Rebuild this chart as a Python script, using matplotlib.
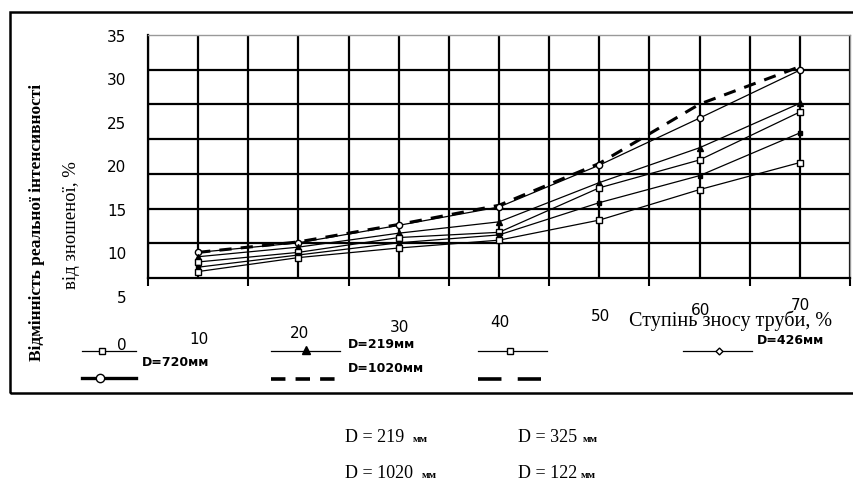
import numpy as np
import matplotlib.pyplot as plt
from matplotlib.lines import Line2D
from matplotlib.patches import Rectangle

# values
wear = [10, 20, 30, 40, 50, 60, 70]
s_circle = [10.3, 11.4, 13.4, 15.5, 20.3, 25.7, 31.2]
s_dashed = [10.3, 11.5, 13.5, 15.7, 20.5, 27.3, 31.6]
s_triangle = [9.8, 10.9, 12.5, 13.8, 18.3, 22.3, 27.4]
s_square = [9.2, 10.3, 12.0, 12.6, 17.7, 20.9, 26.4]
s_filled = [8.6, 10.0, 11.4, 12.3, 16.0, 19.1, 24.0]
s_square2 = [8.1, 9.7, 10.8, 11.7, 14.0, 17.5, 20.6]

y_ticks = [5, 10, 15, 20, 25, 30, 35]
x_labels = [0, 10, 20, 30, 40, 50, 60, 70]

legend_labels = ["D=720мм", "D=219мм", "D=1020мм", "D=426мм"]
bottom_labels = [("D = 219", "мм"), ("D = 325", "мм"),
                 ("D = 1020", "мм"), ("D = 122", "мм")]

W, H = 854, 493
sans = ["DejaVu Sans"]
serif = ["Liberation Serif", "DejaVu Serif"]


def fx(px):
    return px / W


def fy(py):
    return 1 - py / H


fig = plt.figure(figsize=(W / 100, H / 100), dpi=100)
ax = fig.add_axes([fx(148), fy(278), 702 / W, 243 / H])

# outer frame
fig.add_artist(Rectangle((fx(10), fy(393)), fx(860) - fx(10), fy(12) - fy(393),
                         transform=fig.transFigure, fill=False, lw=1.8,
                         edgecolor="black"))

ax.set_xlim(5, 75)
ax.set_ylim(7.36, 35.23)
ax.set_yticks([])
ax.set_xticks(range(5, 80, 10))
ax.set_xticks(range(10, 80, 10), minor=True)
ax.tick_params(axis="x", which="major", direction="out", length=6, width=1.5,
               labelbottom=False)
ax.tick_params(axis="x", which="minor", length=0)
ax.grid(which="both", axis="x", color="black", lw=1.6)
for k in range(1, 7):
    ax.plot([0, 1], [k / 7, k / 7], transform=ax.transAxes, color="black",
            lw=1.6, zorder=1)
for side in ["left", "bottom"]:
    ax.spines[side].set_linewidth(1.6)
for side in ["top", "right"]:
    ax.spines[side].set_color("#999999")
    ax.spines[side].set_linewidth(1.0)

# curves
ax.plot(wear, s_dashed, color="black", lw=2.2, ls=(0, (4, 3)), zorder=3)
ax.plot(wear, s_circle, color="black", lw=0.9, marker="o", ms=4.5,
        mfc="white", mec="black", zorder=4)
ax.plot(wear, s_triangle, color="black", lw=0.9, marker="^", ms=4.5, zorder=4)
ax.plot(wear, s_square, color="black", lw=0.9, marker="s", ms=4.5,
        mfc="white", mec="black", zorder=4)
ax.plot(wear, s_filled, color="black", lw=0.9, marker="s", ms=3.5, zorder=4)
ax.plot(wear, s_square2, color="black", lw=0.9, marker="s", ms=4,
        mfc="white", mec="black", zorder=4)

# y tick labels (shifted against the grid, as in the picture)
for v in y_ticks:
    ax.text(-0.031, v, str(v), transform=ax.get_yaxis_transform(),
            ha="right", va="center", fontsize=11, family=sans, clip_on=False)

# x labels, drifting upwards
for v in x_labels:
    xv = 2.3 if v == 0 else v
    fig.text(fx(199 + (xv - 10) * 10.03), fy(345 - 0.57 * v), str(v),
             ha="center", va="center", fontsize=11, family=sans)

fig.text(fx(731), fy(321), "Ступінь зносу труби, %", ha="center",
         va="center", fontsize=14.5, family=serif)

fig.text(fx(37), fy(222), "Відмінність реальної інтенсивності", rotation=90,
         ha="center", va="center", fontsize=12.5, fontweight="bold",
         family=serif)
fig.text(fx(72), fy(225), "від зношеної, %", rotation=90, ha="center",
         va="center", fontsize=13.5, family=serif)


# hand-drawn legend
def leg(x0, x1, y, **kw):
    fig.add_artist(Line2D([fx(x0), fx(x1)], [fy(y), fy(y)],
                          transform=fig.transFigure, color="black", **kw))


def mark(x, y, **kw):
    fig.add_artist(Line2D([fx(x)], [fy(y)], transform=fig.transFigure,
                          color="black", lw=0, **kw))


leg(82, 136, 351, lw=0.9)
mark(102, 351, marker="s", ms=4.5, mfc="white", mec="black")
leg(271, 340, 351, lw=0.9)
mark(306, 350, marker="^", ms=6)
leg(478, 547, 351, lw=0.9)
mark(510, 351, marker="s", ms=4.5, mfc="white", mec="black")
leg(683, 752, 351, lw=0.9)
mark(719, 351, marker="D", ms=3.5, mfc="white", mec="black")
leg(82, 136, 378, lw=2.4)
mark(100, 378, marker="o", ms=6, mfc="white", mec="black")
leg(271, 340, 379, lw=2.6, ls=(0, (4, 2.8)))
leg(478, 541, 379, lw=2.6, ls=(0, (6.5, 4.5)))

fs_leg = 9
fig.text(fx(142), fy(362), legend_labels[0], ha="left", va="center",
         fontsize=fs_leg, fontweight="bold", family=sans)
fig.text(fx(348), fy(345), legend_labels[1], ha="left", va="center",
         fontsize=fs_leg, fontweight="bold", family=sans)
fig.text(fx(348), fy(369), legend_labels[2], ha="left", va="center",
         fontsize=fs_leg, fontweight="bold", family=sans)
fig.text(fx(757), fy(341), legend_labels[3], ha="left", va="center",
         fontsize=fs_leg, fontweight="bold", family=sans)

# captions below the frame
spots = [(345, 438, 413), (518, 438, 583), (345, 474, 422), (518, 474, 581)]
for (main, unit), (x, y, xu) in zip(bottom_labels, spots):
    fig.text(fx(x), fy(y), main, ha="left", va="center", fontsize=13,
             family=serif)
    fig.text(fx(xu), fy(y + 1), unit, ha="left", va="center", fontsize=8,
             fontweight="bold", family=serif)

fig.savefig("out.png", dpi=100)
